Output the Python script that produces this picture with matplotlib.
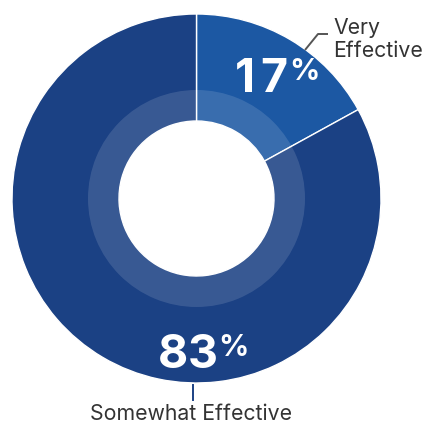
import matplotlib.pyplot as plt
from matplotlib.patches import Wedge

# data
categories = ['Very Effective', 'Somewhat Effective']
label_lines = ['Very\nEffective', 'Somewhat Effective']
shares = [17, 83]
colors = ['#1c58a3', '#1b4184']

W = 423
fig = plt.figure(figsize=(W / 100, W / 100), dpi=100, facecolor='white')
ax = fig.add_axes([0, 0, 1, 1])

cx, cy, R = 196.5, W - 198.5, 184.5
r_hole = 77.5
r_band = 108.5

ax.pie(shares, colors=colors, startangle=90, counterclock=False,
       center=(cx, cy), radius=R, frame=True,
       wedgeprops=dict(width=R - r_hole, edgecolor='white', linewidth=1.0))
ax.set_xlim(0, W)
ax.set_ylim(0, W)
ax.set_aspect('equal')
ax.axis('off')

# lighter inner band
ax.add_patch(Wedge((cx, cy), r_band, 0, 360, width=r_band - r_hole,
                   facecolor='white', alpha=0.13, linewidth=0))

num_font = dict(family=['Inter', 'DejaVu Sans'], weight='bold', color='white')


def pct_label(x_end, y_top, value, adv=29):
    # tabular-looking digits: each digit centred in a fixed-width cell
    s = str(value)
    n = len(s)
    for i, ch in enumerate(s):
        ax.text(x_end - (n - i - 0.5) * adv, y_top, ch, fontsize=33.5,
                ha='center', va='top', **num_font)
    ax.text(x_end + 1.5, y_top, '%', fontsize=21.5, ha='left', va='top', **num_font)


pct_label(288, W - 58, shares[0])
pct_label(217, W - 334, shares[1])

lab_font = dict(family=['Inter', 'DejaVu Sans'], color='#333333', fontsize=15.3)

# Very Effective leader + label
ax.plot([305, 318, 328], [W - 50, W - 34, W - 34], color='#555555', lw=1.4,
        solid_capstyle='butt')
ax.text(333, W - 18, label_lines[0], ha='left', va='top', linespacing=1.2, **lab_font)

# Somewhat Effective leader + label
ax.plot([193, 193], [W - 385, W - 400], color='#1b4184', lw=1.4)
ax.text(191, W - 404, label_lines[1], ha='center', va='top', **lab_font)

fig.savefig('out.png', dpi=100, facecolor='white')
